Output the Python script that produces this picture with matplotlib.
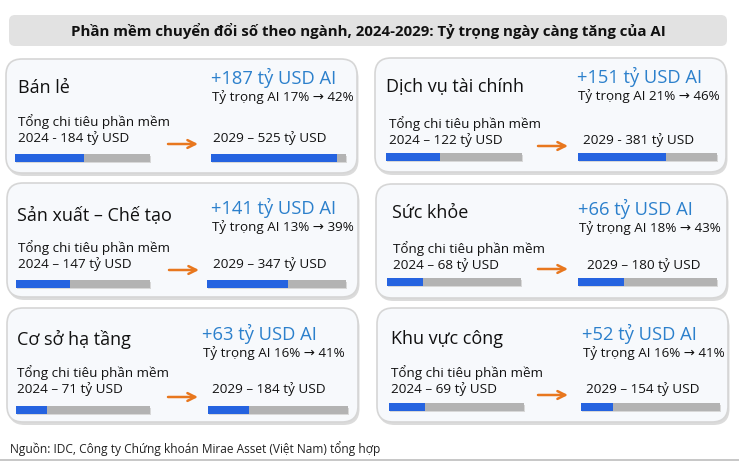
import matplotlib
matplotlib.use("Agg")
import matplotlib.pyplot as plt
from matplotlib.patches import FancyBboxPatch

plt.rcParams['font.family'] = ['Open Sans', 'DejaVu Sans']

# ---------------- data ----------------
title = "Phần mềm chuyển đổi số theo ngành, 2024-2029: Tỷ trọng ngày càng tăng của AI"
source = "Nguồn: IDC, Công ty Chứng khoán Mirae Asset (Việt Nam) tổng hợp"
sectors = ['Bán lẻ', 'Dịch vụ tài chính', 'Sản xuất – Chế tạo',
           'Sức khỏe', 'Cơ sở hạ tầng', 'Khu vực công']
ai_gain = [187, 151, 141, 66, 63, 52]
ai_share_2024 = [17, 21, 13, 18, 16, 16]
ai_share_2029 = [42, 46, 39, 43, 41, 41]
spend_2024 = [184, 122, 147, 68, 71, 69]
spend_2029 = [525, 381, 347, 180, 184, 154]
sep_2024 = ['-', '–', '–', '–', '–', '–']
sep_2029 = ['–', '-', '–', '–', '–', '–']
# bar fill fraction as drawn in the reference
fill_2024 = [0.51, 0.40, 0.40, 0.27, 0.23, 0.27]
fill_2029 = [0.93, 0.63, 0.58, 0.33, 0.29, 0.23]

# ---------------- layout ----------------
W, H = 739, 463
panel_xy = [(6, 59), (375, 58), (7, 183), (376, 184), (7, 308), (377, 308)]
panel_w, panel_h = 351, 114
name_off = [(12, 29), (11, 29), (10, 33), (16, 29), (10, 31), (14, 31)]
gain_off = [(205, 19), (202, 19), (204, 25), (202, 25), (195, 26), (205, 26)]
share_dy = 19
tot_off = [(12, 63), (14, 66), (11, 65), (17, 65), (10, 65), (14, 65)]
line_dy = 16
r_off_x = [207, 208, 206, 211, 205, 209]
arrow_off = [(162, 85), (163, 88), (162, 87), (162, 85), (161, 89), (161, 87)]
bar_y = [99, 99, 101, 98, 102, 99]
left_bar = [(9, 135), (11, 136), (9, 134), (11, 134), (9, 134), (12, 135)]
right_bar = [(205, 135), (203, 139), (200, 139), (202, 139), (201, 140), (204, 139)]
bar_h = 7.5

BLUE_TXT = '#2c80cc'
BLUE_BAR = '#2563e0'
GRAY_BAR = '#b3b3b3'
ORANGE = '#e8771e'

fig = plt.figure(figsize=(W / 100, H / 100), dpi=100)
ax = fig.add_axes([0, 0, 1, 1])
ax.set_xlim(0, W)
ax.set_ylim(H, 0)
ax.axis('off')

# title box
ax.add_patch(FancyBboxPatch((9, 15), 718, 31, boxstyle="round,pad=0,rounding_size=6",
                            fc='#e2e2e2', ec='none'))
ax.text(368, 31, title, ha='center', va='center', fontsize=10.8, fontweight='bold',
        color='#111111')

for i in range(6):
    px, py = panel_xy[i]
    # shadow
    ax.add_patch(FancyBboxPatch((px + 1.5, py + 3), panel_w, panel_h,
                                boxstyle="round,pad=0,rounding_size=16",
                                fc='#c4c4c4', ec='none', alpha=0.6))
    ax.add_patch(FancyBboxPatch((px, py), panel_w, panel_h,
                                boxstyle="round,pad=0,rounding_size=16",
                                fc='#f7f9fc', ec='#d6d6d6', lw=1.2))
    nx, ny = name_off[i]
    ax.text(px + nx, py + ny, sectors[i], ha='left', va='center', fontsize=13,
            color='#111111')
    gx, gy = gain_off[i]
    ax.text(px + gx, py + gy, f"+{ai_gain[i]} tỷ USD AI", ha='left', va='center',
            fontsize=13.2, color=BLUE_TXT)
    ax.text(px + gx + 1, py + gy + share_dy,
            f"Tỷ trọng AI {ai_share_2024[i]}% → {ai_share_2029[i]}%",
            ha='left', va='center', fontsize=9.6, color='#111111')
    tx, ty = tot_off[i]
    ax.text(px + tx, py + ty, "Tổng chi tiêu phần mềm", ha='left', va='center',
            fontsize=9.7, color='#111111')
    ax.text(px + tx, py + ty + line_dy, f"2024 {sep_2024[i]} {spend_2024[i]} tỷ USD",
            ha='left', va='center', fontsize=9.7, color='#111111')
    ax.text(px + r_off_x[i], py + ty + line_dy,
            f"2029 {sep_2029[i]} {spend_2029[i]} tỷ USD",
            ha='left', va='center', fontsize=9.7, color='#111111')
    axx, axy = arrow_off[i]
    ax.annotate('', xy=(px + axx + 30, py + axy), xytext=(px + axx, py + axy),
                arrowprops=dict(arrowstyle='->', color=ORANGE, lw=1.8,
                                mutation_scale=14, shrinkA=0, shrinkB=0))
    by = py + bar_y[i]
    for (bx, bl), frac in ((left_bar[i], fill_2024[i]), (right_bar[i], fill_2029[i])):
        ax.barh(by + 1.5, bl, left=px + bx + 1, height=bar_h, color='#d8d8d8', zorder=2)
        ax.barh(by, bl, left=px + bx, height=bar_h, color=GRAY_BAR, zorder=3)
        ax.barh(by, bl * frac, left=px + bx, height=bar_h, color=BLUE_BAR, zorder=4)

ax.text(10, 449, source, ha='left', va='center', fontsize=8.6, color='#222222')
ax.plot([0, W], [459.5, 459.5], color='#bdbdbd', lw=1.2)

fig.savefig('out.png', dpi=100)
